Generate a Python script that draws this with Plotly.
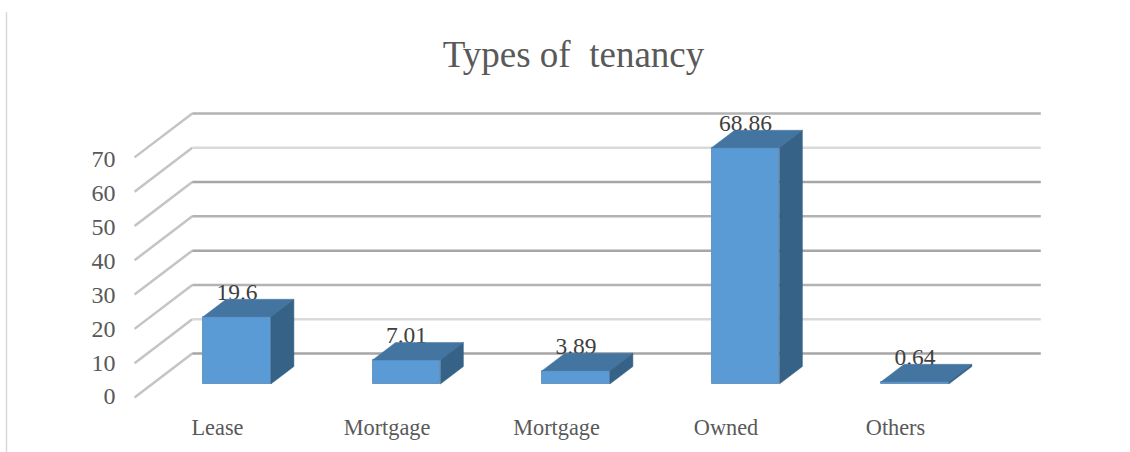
import plotly.graph_objects as go

# ---- data ----
title_text = "Types of\u00a0 tenancy"
categories = ["Lease", "Mortgage", "Mortgage", "Owned", "Others"]
values = [19.6, 7.01, 3.89, 68.86, 0.64]
value_labels = ["19.6", "7.01", "3.89", "68.86", "0.64"]
grid_values = [0, 10, 20, 30, 40, 50, 60, 70]
grid_colors = ["#a6a6a6", "#d9d9d9", "#b3b3b3", "#a6a6a6", "#b3b3b3", "#a6a6a6", "#d9d9d9", "#b3b3b3"]

# ---- scale of the picture ----
W, H = 1130, 452
PX_PER_CAT = 169.5
PX_PER_VAL = 3.43
X0_PX, Y0_PX = 237, 384          # pixel of category 0 / value 0 on the bars' front plane
BAR_WIDTH = 0.4
DX = 23 / PX_PER_CAT             # projection of one bar depth
DY = 17.5 / PX_PER_VAL
WALL_BACK, WALL_FRONT = 1.74, -0.77
LABEL_RISE = 23 / PX_PER_VAL     # data labels above the front top edge


def project(x, v, d):
    return x + d * DX, v + d * DY


def poly(points):
    xs, ys = zip(*[project(*p) for p in points])
    return list(xs) + [xs[0]], list(ys) + [ys[0]]


fig = go.Figure()

# data labels first, so the bar tops overlap them as in the reference
fig.add_trace(go.Scatter(
    x=list(range(len(values))),
    y=[v + LABEL_RISE for v in values],
    mode="text", text=value_labels, textposition="middle center",
    textfont=dict(family="Liberation Serif", size=23.5, color="#404040"),
    hoverinfo="skip", showlegend=False,
))

# front faces
fig.add_trace(go.Bar(
    x=list(range(len(values))), y=values, width=BAR_WIDTH,
    marker=dict(color="#5B9BD5", line=dict(color="#6a95bd", width=1)),
    hoverinfo="skip", showlegend=False,
))

# top and side faces
for i, v in enumerate(values):
    l, r = i - BAR_WIDTH / 2, i + BAR_WIDTH / 2
    xs, ys = poly([(l, v, 0), (r, v, 0), (r, v, 1), (l, v, 1)])
    fig.add_trace(go.Scatter(x=xs, y=ys, mode="lines", fill="toself",
                             fillcolor="#4475A1", line=dict(color="#4475A1", width=0.5),
                             hoverinfo="skip", showlegend=False))
    xs, ys = poly([(r, 0, 0), (r, v, 0), (r, v, 1), (r, 0, 1)])
    fig.add_trace(go.Scatter(x=xs, y=ys, mode="lines", fill="toself",
                             fillcolor="#376288", line=dict(color="#376288", width=0.5),
                             hoverinfo="skip", showlegend=False))

# gridlines: side wall and back wall, behind everything
left, right = -0.5, len(categories) - 0.5 + 0.006
shapes = []
for g, c in zip(grid_values, grid_colors):
    a = project(left, g, WALL_FRONT)
    b = project(left, g, WALL_BACK)
    e = project(right, g, WALL_BACK)
    shapes.append(dict(type="path", layer="below", xref="x", yref="y",
                       path=f"M{a[0]},{a[1]} L{b[0]},{b[1]}",
                       line=dict(color="#c4c4c4", width=2.5)))
    shapes.append(dict(type="path", layer="below", xref="x", yref="y",
                       path=f"M{b[0]},{b[1]} L{e[0]},{e[1]}",
                       line=dict(color=c, width=2.5)))
# chart-area edge on the left
shapes.append(dict(type="line", xref="paper", yref="paper", layer="below",
                   x0=6.5 / W, x1=6.5 / W, y0=0, y1=1 - 12 / H,
                   line=dict(color="#d9d9d9", width=1.5)))

axis_label_font = dict(family="Liberation Serif", size=22.3, color="#595959")
fig.update_layout(
    width=W, height=H, autosize=False,
    margin=dict(l=0, r=0, t=0, b=0),
    paper_bgcolor="white", plot_bgcolor="white",
    showlegend=False, bargap=0, shapes=shapes,
    title=dict(text=title_text, x=573.5 / W, xanchor="center",
               y=1 - 54 / H, yanchor="middle",
               font=dict(family="Liberation Serif", size=37, color="#595959")),
    xaxis=dict(range=[-X0_PX / PX_PER_CAT, (W - X0_PX) / PX_PER_CAT],
               domain=[0, 1], anchor="free", position=1 - 412 / H,
               tickmode="array",
               tickvals=[i - 19.5 / PX_PER_CAT for i in range(len(categories))],
               ticktext=categories, tickfont=axis_label_font,
               showgrid=False, zeroline=False, showline=False, ticks=""),
    yaxis=dict(range=[-(H - Y0_PX) / PX_PER_VAL, Y0_PX / PX_PER_VAL],
               domain=[0, 1], anchor="free", position=115.5 / W,
               tickmode="array",
               tickvals=[(Y0_PX - 396 + 3.39 * g) / PX_PER_VAL for g in grid_values],
               ticktext=[str(g) for g in grid_values],
               tickfont=dict(family="Liberation Serif", size=24, color="#595959"),
               showgrid=False, zeroline=False, showline=False, ticks=""),
)

fig.write_html("out.html", config={"displayModeBar": False},
               post_script="document.body.style.margin='0';")
